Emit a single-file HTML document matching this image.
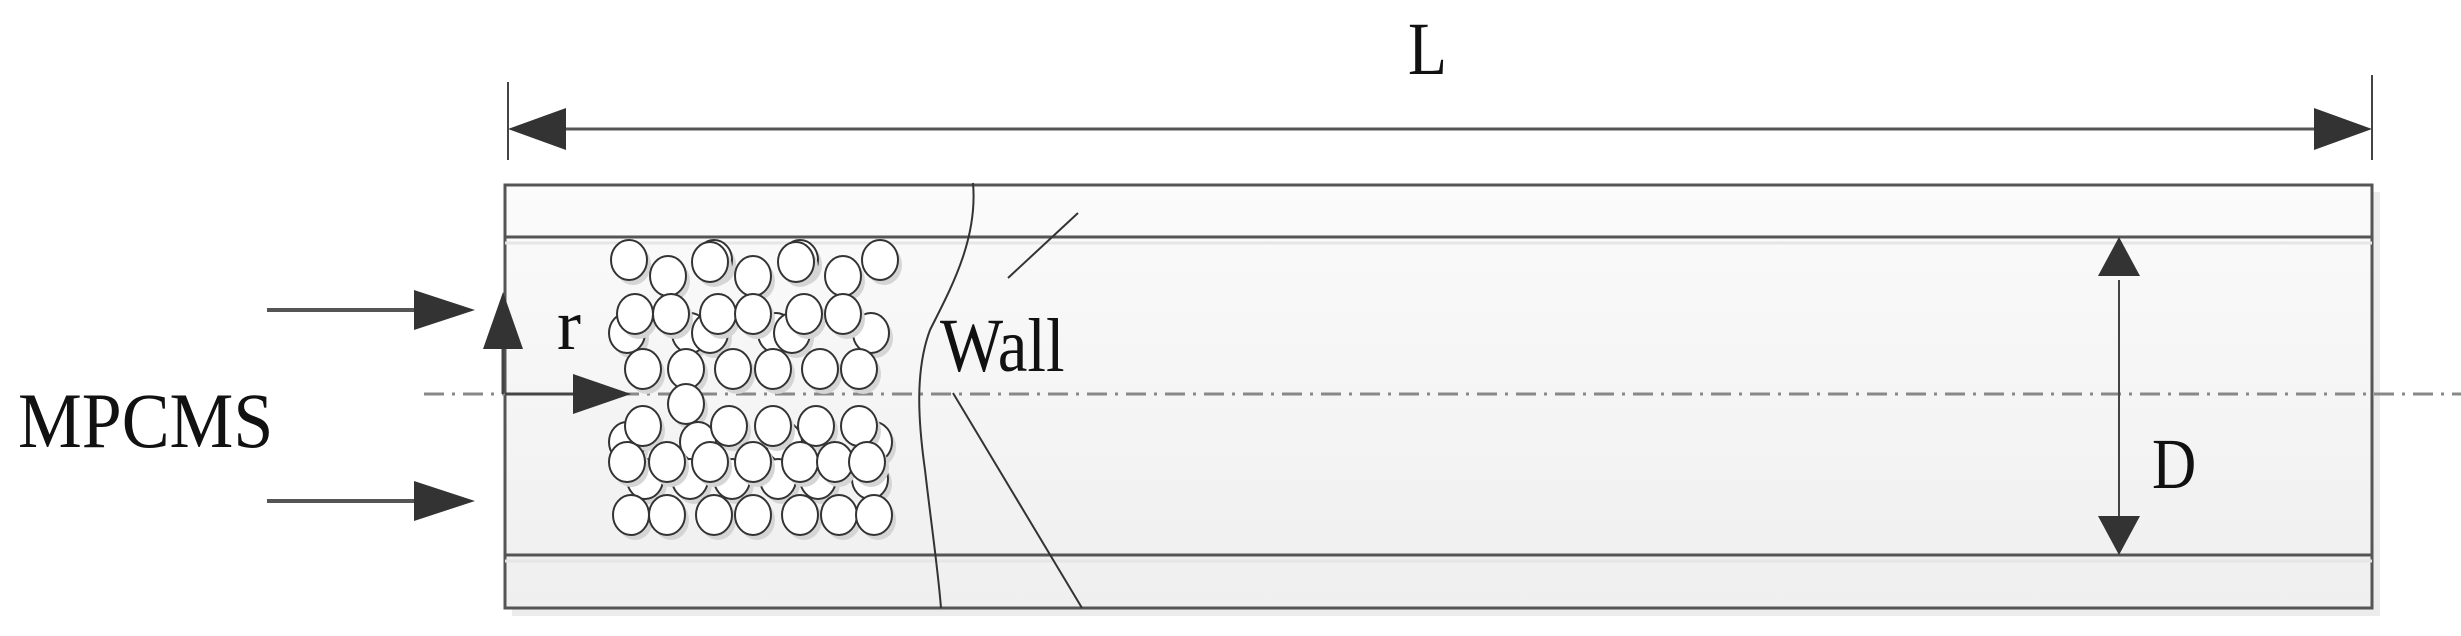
<!DOCTYPE html>
<html><head><meta charset="utf-8"><style>
html,body{margin:0;padding:0;background:#fff;}
svg{display:block;}
text{font-family:"Liberation Serif",serif;fill:#111;}
</style></head><body>
<svg width="2461" height="636" viewBox="0 0 2461 636" xmlns="http://www.w3.org/2000/svg">
<defs>
<linearGradient id="g" x1="0" y1="0" x2="0" y2="1">
<stop offset="0" stop-color="#fbfbfb"/><stop offset="1" stop-color="#efefef"/>
</linearGradient>
<g id="c"><ellipse cx="4" cy="5" rx="18" ry="20" fill="#d5d5d5"/><ellipse cx="0" cy="0" rx="18" ry="20" fill="#fff" stroke="#333" stroke-width="2"/></g>
</defs>
<rect x="512" y="192" width="1868" height="424" fill="#ececec"/>
<rect x="505" y="185" width="1867" height="423" fill="url(#g)" stroke="#555" stroke-width="3"/>
<line x1="505" y1="237" x2="2372" y2="237" stroke="#555" stroke-width="3"/>
<line x1="505" y1="555" x2="2372" y2="555" stroke="#555" stroke-width="3"/>
<line x1="505" y1="243" x2="2372" y2="243" stroke="#e6e6e6" stroke-width="3"/>
<line x1="505" y1="561" x2="2372" y2="561" stroke="#e6e6e6" stroke-width="3"/>
<line x1="424" y1="394" x2="2461" y2="394" stroke="#888" stroke-width="3" stroke-dasharray="20,8,3,8"/>
<line x1="508" y1="82" x2="508" y2="160" stroke="#444" stroke-width="2"/>
<line x1="2372" y1="75" x2="2372" y2="160" stroke="#444" stroke-width="2"/>
<line x1="560" y1="129" x2="2320" y2="129" stroke="#555" stroke-width="3"/>
<polygon points="508,129 566,108 566,150" fill="#333"/>
<polygon points="2372,129 2314,108 2314,150" fill="#333"/>
<text x="1408" y="74" font-size="75" transform="translate(1408,0) scale(0.85,1) translate(-1408,0)">L</text>
<line x1="2119" y1="280" x2="2119" y2="520" stroke="#444" stroke-width="2"/>
<polygon points="2119,237 2098,276 2140,276" fill="#333"/>
<polygon points="2119,555 2098,516 2140,516" fill="#333"/>
<text x="2152" y="488" font-size="72" transform="translate(2152,0) scale(0.85,1) translate(-2152,0)">D</text>
<line x1="267" y1="310" x2="420" y2="310" stroke="#555" stroke-width="4"/>
<polygon points="475,310 414,290 414,330" fill="#333"/>
<line x1="267" y1="501" x2="420" y2="501" stroke="#555" stroke-width="4"/>
<polygon points="475,501 414,481 414,521" fill="#333"/>
<text x="18" y="447" font-size="78" transform="translate(18,0) scale(0.92,1) translate(-18,0)">MPCMS</text>
<line x1="503" y1="394" x2="503" y2="345" stroke="#444" stroke-width="3"/>
<polygon points="503,292 483,349 523,349" fill="#333"/>
<line x1="505" y1="394" x2="580" y2="394" stroke="#444" stroke-width="3"/>
<polygon points="631,394 573,374 573,414" fill="#333"/>
<text x="557" y="349" font-size="72">r</text>
<g>
<use href="#c" x="629" y="260"/><use href="#c" x="668" y="276"/><use href="#c" x="714" y="260"/><use href="#c" x="753" y="276"/><use href="#c" x="800" y="260"/><use href="#c" x="843" y="276"/><use href="#c" x="880" y="260"/><use href="#c" x="710" y="262"/><use href="#c" x="796" y="262"/>
<use href="#c" x="627" y="333"/><use href="#c" x="690" y="333"/><use href="#c" x="710" y="333"/><use href="#c" x="776" y="333"/><use href="#c" x="792" y="333"/><use href="#c" x="871" y="333"/>
<use href="#c" x="635" y="314"/><use href="#c" x="671" y="314"/><use href="#c" x="718" y="314"/><use href="#c" x="753" y="314"/><use href="#c" x="804" y="314"/><use href="#c" x="843" y="314"/>
<use href="#c" x="643" y="369"/><use href="#c" x="686" y="369"/><use href="#c" x="733" y="369"/><use href="#c" x="773" y="369"/><use href="#c" x="820" y="369"/><use href="#c" x="859" y="369"/>
<use href="#c" x="686" y="404"/>
<use href="#c" x="627" y="442"/><use href="#c" x="698" y="442"/><use href="#c" x="784" y="442"/><use href="#c" x="874" y="442"/>
<use href="#c" x="643" y="426"/><use href="#c" x="729" y="426"/><use href="#c" x="773" y="426"/><use href="#c" x="816" y="426"/><use href="#c" x="859" y="426"/>
<use href="#c" x="645" y="479"/><use href="#c" x="690" y="479"/><use href="#c" x="732" y="479"/><use href="#c" x="778" y="479"/><use href="#c" x="818" y="479"/><use href="#c" x="870" y="479"/>
<use href="#c" x="627" y="462"/><use href="#c" x="667" y="462"/><use href="#c" x="710" y="462"/><use href="#c" x="753" y="462"/><use href="#c" x="800" y="462"/><use href="#c" x="835" y="462"/><use href="#c" x="867" y="462"/>
<use href="#c" x="631" y="515"/><use href="#c" x="667" y="515"/><use href="#c" x="714" y="515"/><use href="#c" x="753" y="515"/><use href="#c" x="800" y="515"/><use href="#c" x="839" y="515"/><use href="#c" x="874" y="515"/>
</g>
<path d="M973,183 C978,240 950,290 930,330 C915,370 918,420 925,470 C932,530 938,570 941,608" fill="none" stroke="#333" stroke-width="2"/>
<line x1="953" y1="393" x2="1082" y2="608" stroke="#333" stroke-width="2"/>
<line x1="1078" y1="213" x2="1008" y2="278" stroke="#333" stroke-width="2"/>
<text x="940" y="371" font-size="76" transform="translate(940,0) scale(0.88,1) translate(-940,0)">Wall</text>
</svg>
</body></html>
